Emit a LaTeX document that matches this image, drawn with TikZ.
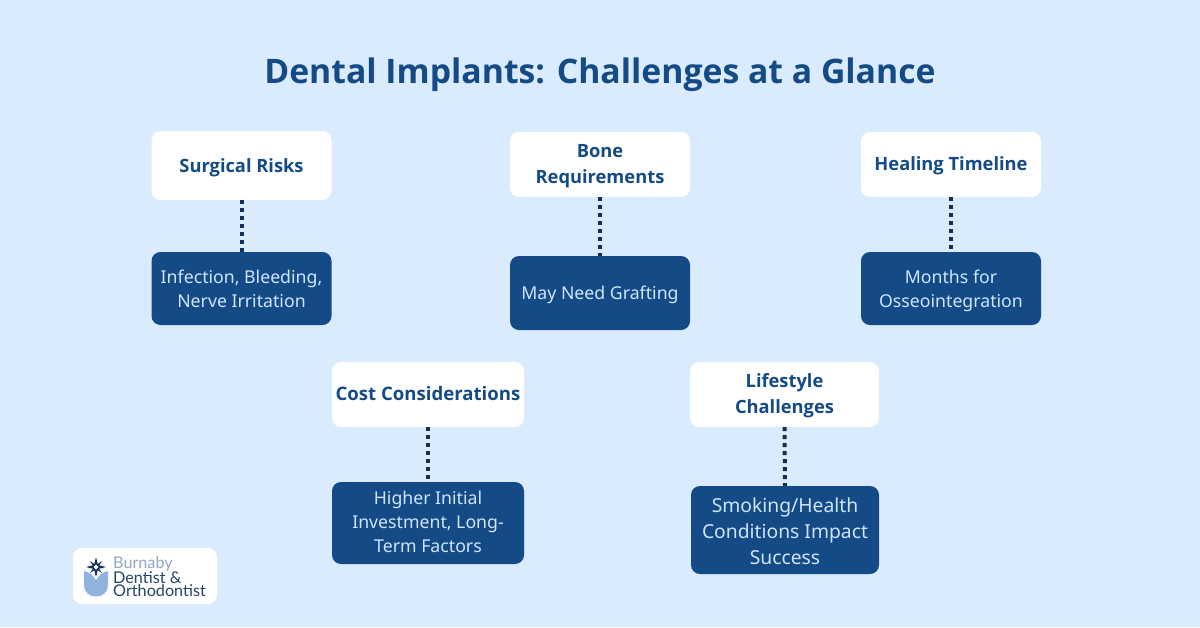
\documentclass[tikz,border=0pt]{standalone}
\usepackage{fontspec}
\setmainfont{Noto Sans}
\newfontfamily\boldf{Open Sans}
\newfontfamily\logofont{Lato}
\definecolor{bgblue}{HTML}{DAEBFE}
\definecolor{navy}{HTML}{144A85}
\definecolor{paleb}{HTML}{CFE5FC}
\definecolor{dotc}{HTML}{12305A}
\definecolor{logoblue}{HTML}{8FB2DE}
\definecolor{logogrey}{HTML}{8FA9C6}
\definecolor{logodark}{HTML}{24456B}
\newcommand\shft[2]{\raisebox{#1}[\height][\depth]{\begin{tabular}{@{}c@{}}#2\end{tabular}}}
\tikzset{
  headbox/.style={fill=white,rounded corners=9pt,inner sep=0pt,text=navy,font=\boldf\bfseries\fontsize{18.3}{26}\selectfont},
  bodybox/.style={fill=navy,rounded corners=9pt,inner sep=0pt,text=paleb,font=\fontsize{17.7}{24}\selectfont},
  link/.style={draw=dotc,line width=4pt,dash pattern=on 4pt off 4pt},
  logotext/.style={inner sep=0pt,anchor=base west}
}
\begin{document}
\begin{tikzpicture}[x=1pt,y=-1pt]
\fill[bgblue] (0,0) rectangle (1200,627);
\useasboundingbox (0,0) rectangle (1200,627);
\node[text=navy,font=\boldf\bfseries\fontsize{33.75}{40}\selectfont,inner sep=0pt] (title) at (600,75) {Dental Implants: Challenges at a Glance};

\node[headbox,minimum width=180pt,minimum height=69pt] (h1) at (241.5,165.5) {\shft{-2pt}{Surgical Risks}};
\node[bodybox,minimum width=180pt,minimum height=73pt] (b1) at (241.5,288.5) {\shft{-2pt}{Infection, Bleeding,\\Nerve Irritation}};
\node[headbox,minimum width=180pt,minimum height=65pt] (h2) at (600,164.5) {\shft{-1pt}{Bone\\Requirements}};
\node[bodybox,minimum width=180pt,minimum height=74pt] (b2) at (600,293) {\shft{-2pt}{May Need Grafting}};
\node[headbox,minimum width=180pt,minimum height=65pt] (h3) at (951,164.5) {\shft{-1pt}{Healing Timeline}};
\node[bodybox,minimum width=180pt,minimum height=73pt] (b3) at (951,288.5) {\shft{-2pt}{Months for\\Osseointegration}};
\node[headbox,minimum width=192pt,minimum height=65pt,font=\boldf\bfseries\fontsize{18.6}{26}\selectfont] (h4) at (428,394.5) {\shft{-1pt}{Cost Considerations}};
\node[bodybox,minimum width=192pt,minimum height=82pt] (b4) at (428,523) {\shft{-1pt}{Higher Initial\\Investment, Long-\\Term Factors}};
\node[headbox,minimum width=189pt,minimum height=65pt] (h5) at (784.5,394.5) {\shft{-1pt}{Lifestyle\\Challenges}};
\node[bodybox,minimum width=188pt,minimum height=88pt,font=\fontsize{19.3}{26}\selectfont] (b5) at (785,530) {\shft{-3pt}{Smoking/Health\\Conditions Impact\\Success}};

\foreach \n in {1,...,5}{\draw[link] (h\n.south) -- (b\n.north);}

% logo
\node[fill=white,rounded corners=9pt,minimum width=144pt,minimum height=56pt,inner sep=0pt] (logo) at (145,576) {};
\fill[logoblue] (84,571) .. controls (89,572) and (93,575) .. (96,580) .. controls (99,575) and (103,572) .. (108,571) -- (108,585) .. controls (108,592) and (103,596.5) .. (96,596.5) .. controls (89,596.5) and (84,592) .. (84,585) -- cycle;
\fill[dotc] (96,557) -- (98,565) -- (106,567) -- (98,569) -- (96,577) -- (94,569) -- (86,567) -- (94,565) -- cycle;
\fill[dotc] (90,561) -- (96,565) -- (102,561) -- (98,567) -- (102,573) -- (96,569) -- (90,573) -- (94,567) -- cycle;
\fill[white] (96,564.5) -- (98.5,567) -- (96,569.5) -- (93.5,567) -- cycle;
\node[logotext,text=logogrey,font=\logofont\fontsize{16.2}{18}\selectfont] (l1) at (113,568) {Burnaby};
\node[logotext,text=logodark,font=\logofont\fontsize{16.2}{18}\selectfont] (l2) at (113,583) {Dentist \&};
\node[logotext,text=logodark,font=\logofont\fontsize{16.2}{18}\selectfont] (l3) at (113,596.5) {Orthodontist};
\end{tikzpicture}
\end{document}
